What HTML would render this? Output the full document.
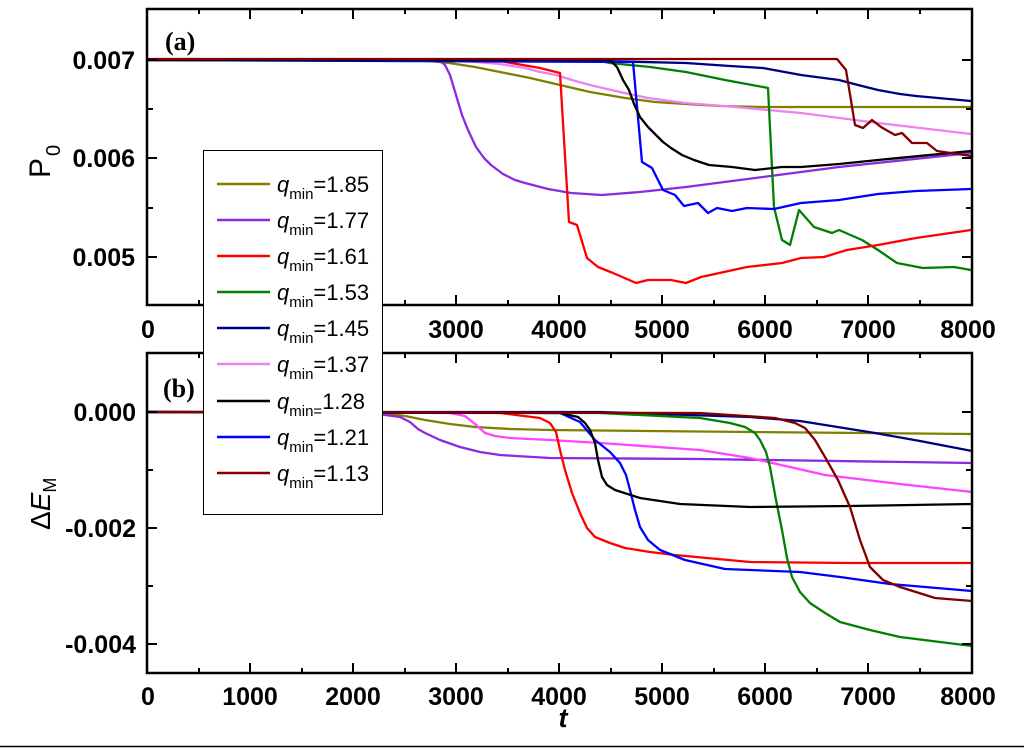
<!DOCTYPE html>
<html><head><meta charset="utf-8"><style>
html,body{margin:0;padding:0;background:#fff;}
svg{display:block;}
text{font-family:"Liberation Sans",Arial,sans-serif;}
.tl{font-size:25px;font-weight:bold;fill:#000;}
polyline{fill:none;stroke-width:2.3;stroke-linejoin:round;stroke-linecap:round;}
</style></head><body>
<svg width="1024" height="748" viewBox="0 0 1024 748" xmlns="http://www.w3.org/2000/svg">
<rect width="1024" height="748" fill="#fff"/>
<g>
<polyline stroke="#808000" points="148,60 420,60 449,63 475,67 500,72 530,78 560,85 590,92 625,98 655,102 686,104 720,106 763,107 972,107"/>
<polyline stroke="#8a2be2" points="148,60 439,60 445,65 450,75 456,95 462,115 468,130 476,147 484,158 491,165 503,174 515,180 525,183 548,189 571,193 602,195 640,192 686,187 763,177 839,167 971,153"/>
<polyline stroke="#ee82ee" points="148,60 440,60 476,62 500,64 525,68 540,72 556,75 572,80 590,85 620,92 648,98 685,103 724,106 801,113 878,123 971,134"/>
<polyline stroke="#000080" points="148,60 600,61 686,63 730,66 763,68 801,75 839,80 858,85 878,90 900,94 916,96 971,101"/>
<polyline stroke="#008000" points="148,60 600,61 610,63 650,67 686,72 725,80 763,87 768,88 774,207 782,240 790,245 799,210 814,227 832,233 839,230 862,240 878,250 897,263 923,268 954,267 971,270"/>
<polyline stroke="#ff0000" points="148,60 500,61 540,68 560,73 569,222 577,225 587,258 598,267 613,273 636,283 648,280 671,280 686,283 701,277 724,272 747,267 782,263 801,258 824,257 847,250 878,245 916,238 971,230"/>
<polyline stroke="#0000ff" points="148,60 633,62 642,162 652,168 663,190 675,195 684,206 698,203 708,213 717,208 732,211 747,208 774,209 801,203 839,200 878,194 916,191 971,189"/>
<polyline stroke="#000000" points="148,60 600,60 610,60 617,67 623,80 629,90 634,104 640,117 648,127 656,135 663,142 671,148 682,155 694,160 709,165 732,167 755,170 782,167 801,167 839,164 878,160 971,151"/>
<polyline stroke="#800000" points="148,59 837,59 846,70 855,125 863,128 872,120 881,127 895,135 902,133 912,143 927,143 937,151 971,156"/>
</g>
<g>
<polyline stroke="#808000" points="148,412 370,412 385,413 405,416 425,420 450,424 475,427 510,429 550,430 750,432 972,434"/>
<polyline stroke="#8a2be2" points="148,412 370,412 385,415 400,417 410,422 418,429 425,433 440,440 460,447 480,452 500,455 550,458 700,459 972,463"/>
<polyline stroke="#ff44ff" points="148,412 450,413 465,416 475,424 485,433 495,436 510,438 550,440 600,443 700,450 750,458 790,467 825,475 900,484 972,492"/>
<polyline stroke="#ff0000" points="148,412 500,413 540,418 550,423 556,432 560,450 565,470 572,493 580,513 587,528 595,537 610,543 625,548 650,552 675,555 750,562 850,563 972,563"/>
<polyline stroke="#000080" points="148,412 600,412 750,417 800,421 825,425 850,429 875,433 920,441 972,451"/>
<polyline stroke="#008000" points="148,412 600,413 700,418 730,423 745,427 755,433 760,440 766,452 770,467 776,500 782,530 787,558 792,577 800,592 810,603 825,613 840,622 870,630 900,637 972,646"/>
<polyline stroke="#0000ff" points="148,412 560,413 580,422 595,440 610,452 620,463 626,475 630,490 635,510 640,527 648,540 660,550 685,560 725,569 800,572 840,577 890,584 972,591"/>
<polyline stroke="#000000" points="148,412 560,413 578,417 585,423 590,430 595,443 598,460 602,477 607,485 615,490 640,498 680,504 750,507 850,506 972,504"/>
<polyline stroke="#800000" points="148,412 700,413 775,418 795,423 805,428 815,440 825,457 838,480 850,507 860,540 870,567 883,580 900,587 935,598 972,601"/>
</g>
<g stroke="#000" stroke-width="2.5" fill="none">
<rect x="147" y="9" width="825" height="296"/>
<rect x="147" y="353" width="825" height="320"/>
</g>
<g stroke="#000" stroke-width="2">
<path d="M250,305v-10M353,305v-10M456,305v-10M559,305v-10M662,305v-10M765,305v-10M868,305v-10
M199,305v-5M302,305v-5M405,305v-5M508,305v-5M611,305v-5M714,305v-5M817,305v-5M920,305v-5
M250,9v10M353,9v10M456,9v10M559,9v10M662,9v10M765,9v10M868,9v10
M199,9v5M302,9v5M405,9v5M508,9v5M611,9v5M714,9v5M817,9v5M920,9v5
M147,60h10M147,158h10M147,257h10M147,109h6M147,208h6
M972,60h-10M972,158h-10M972,257h-10M972,109h-6M972,208h-6"/>
<path d="M250,673v-10M353,673v-10M456,673v-10M559,673v-10M662,673v-10M765,673v-10M868,673v-10
M199,673v-5M302,673v-5M405,673v-5M508,673v-5M611,673v-5M714,673v-5M817,673v-5M920,673v-5
M250,353v10M353,353v10M456,353v10M559,353v10M662,353v10M765,353v10M868,353v10
M199,353v5M302,353v5M405,353v5M508,353v5M611,353v5M714,353v5M817,353v5M920,353v5
M147,412h10M147,528h10M147,644h10M147,470h6M147,586h6
M972,412h-10M972,528h-10M972,644h-10M972,470h-6M972,586h-6"/>
<path d="M0,746.5h1024" stroke-width="1.5"/>
</g>
<g class="tl" text-anchor="end">
<text x="135" y="69">0.007</text>
<text x="135" y="167">0.006</text>
<text x="135" y="266">0.005</text>
<text x="136" y="421">0.000</text>
<text x="136" y="537">-0.002</text>
<text x="136" y="653">-0.004</text>
</g>
<g class="tl" text-anchor="middle">
<text x="148" y="338">0</text><text x="456" y="338">3000</text><text x="559" y="338">4000</text><text x="662" y="338">5000</text><text x="765" y="338">6000</text><text x="868" y="338">7000</text><text x="968" y="338">8000</text>
<text x="148" y="705">0</text><text x="250" y="705">1000</text><text x="353" y="705">2000</text><text x="456" y="705">3000</text><text x="559" y="705">4000</text><text x="662" y="705">5000</text><text x="765" y="705">6000</text><text x="868" y="705">7000</text><text x="968" y="705">8000</text>
</g>
<text x="563" y="727" font-size="27" font-weight="bold" font-style="italic" text-anchor="middle">t</text>
<text x="165" y="50" font-size="26" font-weight="bold" style="font-family:'Liberation Serif',serif">(a)</text>
<text x="163" y="397" font-size="26" font-weight="bold" style="font-family:'Liberation Serif',serif">(b)</text>
<text transform="translate(50,178) rotate(-90)" font-size="30">P<tspan font-size="20" dy="10" dx="2">0</tspan></text>
<text transform="translate(50,530) rotate(-90)" font-size="28">Δ<tspan font-style="italic">E</tspan><tspan font-size="18" dy="6">M</tspan></text>
<rect x="203.5" y="150.5" width="179" height="364" fill="#fff" stroke="#000" stroke-width="1"/>
<g stroke-width="2.5">
<path d="M217,184h53" stroke="#808000"/>
<path d="M217,220h53" stroke="#8a2be2"/>
<path d="M217,256h53" stroke="#ff0000"/>
<path d="M217,292h53" stroke="#008000"/>
<path d="M217,328h53" stroke="#000080"/>
<path d="M217,364h53" stroke="#ee82ee"/>
<path d="M217,401h53" stroke="#000000"/>
<path d="M217,437h53" stroke="#0000ff"/>
<path d="M217,473h53" stroke="#800000"/>
</g>
<g font-size="22">
<text x="277" y="192"><tspan font-style="italic">q</tspan><tspan font-size="15" dy="7">min</tspan><tspan dy="-7">=1.85</tspan></text>
<text x="277" y="228"><tspan font-style="italic">q</tspan><tspan font-size="15" dy="7">min</tspan><tspan dy="-7">=1.77</tspan></text>
<text x="277" y="264"><tspan font-style="italic">q</tspan><tspan font-size="15" dy="7">min</tspan><tspan dy="-7">=1.61</tspan></text>
<text x="277" y="300"><tspan font-style="italic">q</tspan><tspan font-size="15" dy="7">min</tspan><tspan dy="-7">=1.53</tspan></text>
<text x="277" y="336"><tspan font-style="italic">q</tspan><tspan font-size="15" dy="7">min</tspan><tspan dy="-7">=1.45</tspan></text>
<text x="277" y="372"><tspan font-style="italic">q</tspan><tspan font-size="15" dy="7">min</tspan><tspan dy="-7">=1.37</tspan></text>
<text x="277" y="409"><tspan font-style="italic">q</tspan><tspan font-size="15" dy="7">min=</tspan><tspan dy="-7">1.28</tspan></text>
<text x="277" y="445"><tspan font-style="italic">q</tspan><tspan font-size="15" dy="7">min</tspan><tspan dy="-7">=1.21</tspan></text>
<text x="277" y="481"><tspan font-style="italic">q</tspan><tspan font-size="15" dy="7">min</tspan><tspan dy="-7">=1.13</tspan></text>
</g>
</svg>
</body></html>
